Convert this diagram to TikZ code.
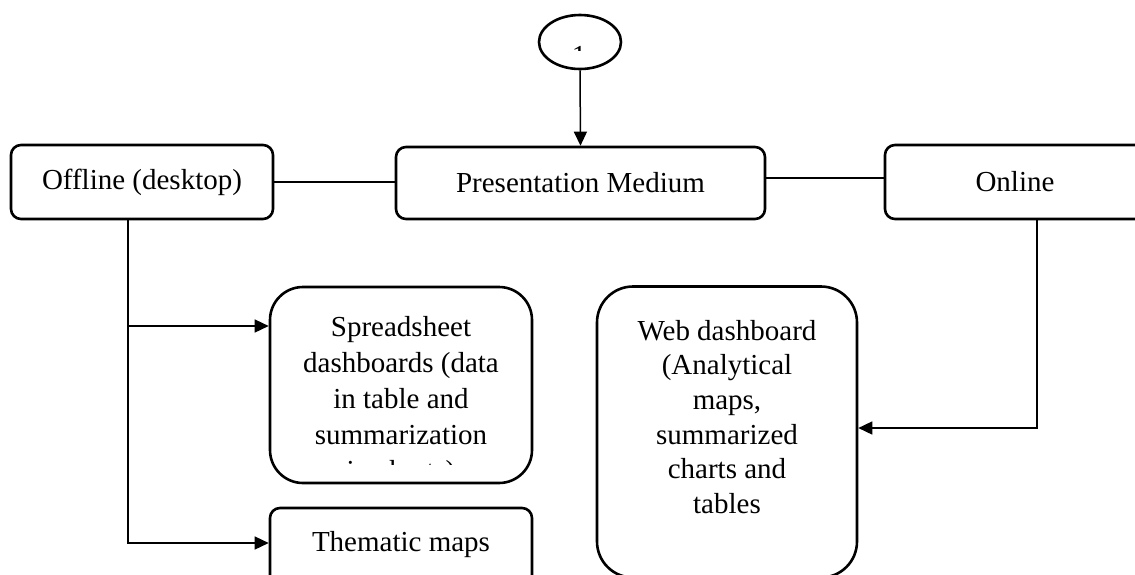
\documentclass[tikz,border=0pt]{standalone}
\usepackage{fontspec}
\setmainfont{Liberation Serif}
\usetikzlibrary{arrows.meta,shapes.geometric}
\begin{document}
\begin{tikzpicture}[x=1pt,y=-1pt,
  every node/.style={font=\fontsize{29}{36}\selectfont},
  box/.style={draw, line width=2.6pt, rounded corners=10pt, inner sep=0pt, align=center},
  bigbox/.style={box, rounded corners=33pt},
  txt/.style={inner sep=0pt, align=center},
  conn/.style={line width=1.5pt},
  arr/.style={conn, -{Triangle[length=14pt,width=13pt]}}]
\useasboundingbox (0,0) rectangle (1135,574);
\clip (0,0) rectangle (1135,574);

% start marker
\node[draw, ellipse, line width=2.6pt, minimum width=82pt, minimum height=54pt] (start) at (580,42) {};
\begin{scope}
  \clip (540,0) rectangle (620,50);
  \node[txt, anchor=base] (startlbl) at (579,65) {1};
\end{scope}

% top row
\node[box, minimum width=262pt, minimum height=74pt] (off) at (142,182) {Offline (desktop)};
\node[box, minimum width=369pt, minimum height=72pt] (pm) at (580.5,183) {Presentation Medium};
\node[box, minimum width=260pt, minimum height=74pt] (onl) at (1015,182) {Online};

% offline outputs
\node[bigbox, minimum width=262pt, minimum height=196pt] (ss) at (401,385) {};
\begin{scope}
  \clip (280,290) rectangle (522,464);
  \node[txt, anchor=north] (sstext) at (401,316)
    {Spreadsheet\\dashboards (data\\in table and\\summarization\\in charts)};
\end{scope}
\node[box, minimum width=262pt, minimum height=84pt] (tm) at (401,550) {};
\node[txt, anchor=base] (tmtext) at (401,551) {Thematic maps};

% online output
\node[bigbox, rounded corners=36pt, minimum width=260pt, minimum height=291pt] (web) at (727,432) {};
\node[txt, anchor=north, font=\fontsize{29}{34.6}\selectfont] (webtext) at (727,320)
  {Web dashboard\\(Analytical\\maps,\\summarized\\charts and\\tables};

% connectors
\draw[arr] (start.south) -- (pm.north);
\draw[conn] (off.east |- 0,182) -- (pm.west |- 0,182);
\draw[conn] (pm.east |- 0,178) -- (onl.west |- 0,178);
\coordinate (offdrop) at (128,0);
\draw[arr] (offdrop |- off.south) |- (ss.west |- 0,326);
\draw[arr] (offdrop |- off.south) |- (tm.west |- 0,543);
\coordinate (ondrop) at (1037,0);
\draw[arr] (ondrop |- onl.south) |- (web.east |- 0,428);
\end{tikzpicture}
\end{document}
